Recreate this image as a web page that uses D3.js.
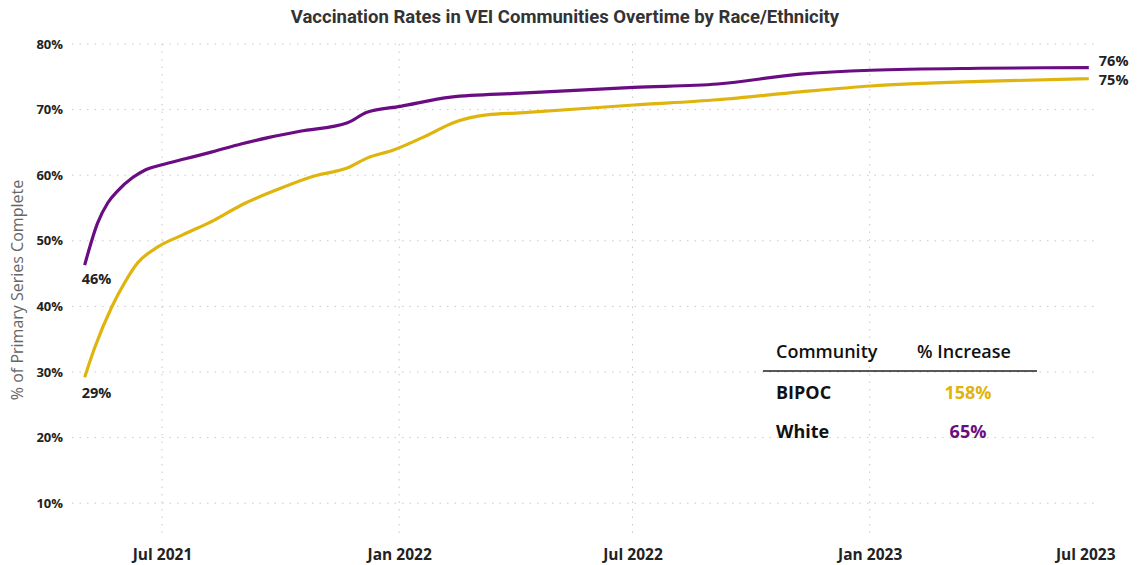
<!DOCTYPE html>
<html>
<head>
<meta charset="utf-8">
<script src="https://cdn.jsdelivr.net/npm/d3@7"></script>
<style>
  body { margin: 0; background: #fff; }
  text { font-family: "Open Sans", "Noto Sans", sans-serif; }
</style>
</head>
<body>
<div id="chart"></div>
<script>
// data
const whiteDates = ["2021-05-02","2021-05-12","2021-05-20","2021-05-28","2021-06-08","2021-06-18","2021-07-01",
  "2021-07-19","2021-08-06","2021-09-01","2021-09-23","2021-10-16","2021-11-22","2021-12-07","2022-01-02",
  "2022-02-10","2022-04-05","2022-07-02","2022-09-05","2022-11-08","2023-01-02","2023-03-28","2023-06-20"];
const whiteValues = [46.3,52.7,55.8,57.7,59.6,60.8,61.6,62.5,63.4,64.8,65.8,66.7,68.0,69.6,70.5,
  71.9,72.5,73.4,73.9,75.4,76.0,76.3,76.4];

const bipocDates = ["2021-05-02","2021-05-10","2021-05-23","2021-06-02","2021-06-12","2021-06-28","2021-07-17",
  "2021-08-11","2021-09-01","2021-09-27","2021-10-24","2021-11-24","2021-12-07","2021-12-27","2022-01-23",
  "2022-02-12","2022-03-10","2022-04-05","2022-07-02","2022-09-05","2022-11-08","2023-01-02","2023-03-28","2023-06-20"];
const bipocValues = [29.2,33.8,39.9,43.6,46.6,49.1,50.9,53.2,55.5,57.7,59.7,61.3,62.6,63.8,66.1,
  68.0,69.2,69.5,70.7,71.5,72.7,73.6,74.3,74.7];

const yTicks = [10,20,30,40,50,60,70,80];
const xTicks = ["2021-07-01","2022-01-01","2022-07-01","2023-01-01","2023-07-01"];

const tableHead = ["Community", "% Increase"];
const tableRows = [["BIPOC", "158%"], ["White", "65%"]];

const purple = "#6a0d83", yellow = "#dfb40c";

const W = 1138, H = 565;
const svg = d3.select("#chart").append("svg").attr("width", W).attr("height", H);

const parse = d3.timeParse("%Y-%m-%d");
const white = whiteDates.map((d, i) => ({ date: parse(d), v: whiteValues[i] }));
const bipoc = bipocDates.map((d, i) => ({ date: parse(d), v: bipocValues[i] }));

const x = d3.scaleTime()
  .domain([parse("2021-07-01"), parse("2023-07-01")])
  .range([162, 1103]);
const y = d3.scaleLinear().domain([5, 80]).range([536, 44]);

// title
svg.append("text")
  .attr("x", 565).attr("y", 23)
  .attr("text-anchor", "middle")
  .style("font-family", "Roboto, sans-serif")
  .style("font-size", "18.5px").style("font-weight", "bold").style("fill", "#333")
  .text("Vaccination Rates in VEI Communities Overtime by Race/Ethnicity");

// grid
svg.append("g").selectAll("line.h")
  .data(yTicks).enter().append("line")
  .attr("x1", 72).attr("x2", 1095)
  .attr("y1", d => y(d)).attr("y2", d => y(d))
  .attr("stroke", "#c8c8c8").attr("stroke-dasharray", "1.5,6");

svg.append("g").selectAll("line.v")
  .data(xTicks.slice(0, 4)).enter().append("line")
  .attr("x1", d => x(parse(d))).attr("x2", d => x(parse(d)))
  .attr("y1", 44).attr("y2", 536)
  .attr("stroke", "#c8c8c8").attr("stroke-dasharray", "1.5,6");

// y axis
const yAxis = svg.append("g")
  .attr("transform", "translate(63,0)")
  .call(d3.axisLeft(y).tickValues(yTicks).tickSize(0).tickPadding(0).tickFormat(d => d + "%"));
yAxis.select(".domain").remove();
yAxis.selectAll("text")
  .style("font-size", "13px").style("font-weight", "bold").style("fill", "#222")
  .style("font-family", "'Open Sans', sans-serif");

svg.append("text")
  .attr("transform", "translate(23,290) rotate(-90)")
  .attr("text-anchor", "middle")
  .style("font-size", "16px").style("fill", "#666")
  .text("% of Primary Series Complete");

// x axis
const xAxis = svg.append("g")
  .attr("transform", "translate(0,549)")
  .call(d3.axisBottom(x).tickValues(xTicks.map(parse)).tickSize(0).tickPadding(0)
    .tickFormat(d3.timeFormat("%b %Y")));
xAxis.select(".domain").remove();
xAxis.selectAll("text")
  .style("font-size", "15.5px").style("font-weight", "bold").style("fill", "#222")
  .style("font-family", "'Open Sans', sans-serif");
xAxis.selectAll(".tick").filter((d, i) => i === xTicks.length - 1)
  .select("text").attr("text-anchor", "end").attr("x", 12);

// lines
const line = d3.line().x(d => x(d.date)).y(d => y(d.v)).curve(d3.curveMonotoneX);
svg.append("path").datum(bipoc).attr("d", line)
  .attr("fill", "none").attr("stroke", yellow).attr("stroke-width", 3.2);
svg.append("path").datum(white).attr("d", line)
  .attr("fill", "none").attr("stroke", purple).attr("stroke-width", 3.2);

// start / end labels
const lbl = (tx, ty, anchor, t) => svg.append("text")
  .attr("x", tx).attr("y", ty).attr("text-anchor", anchor)
  .style("font-size", "14.5px").style("font-weight", "bold").style("fill", "#222").text(t);
const w0 = white[0], b0 = bipoc[0], w1 = white[white.length - 1], b1 = bipoc[bipoc.length - 1];
lbl(x(w0.date) - 3, y(w0.v) + 19, "start", Math.round(w0.v) + "%");
lbl(x(b0.date) - 3, y(b0.v) + 21, "start", Math.round(b0.v) + "%");
lbl(x(w1.date) + 10, y(w1.v) - 2, "start", Math.round(w1.v) + "%");
lbl(x(b1.date) + 10, y(b1.v) + 6, "start", Math.round(b1.v) + "%");

// table
const tbl = svg.append("g").style("font-size", "18px");
tbl.append("text").attr("x", 776).attr("y", 358).style("font-weight", 600).style("fill", "#111").text(tableHead[0]);
tbl.append("text").attr("x", 964).attr("y", 358).attr("text-anchor", "middle")
  .style("font-weight", 600).style("fill", "#111").text(tableHead[1]);
tbl.append("line").attr("x1", 763).attr("x2", 1037).attr("y1", 371).attr("y2", 371)
  .attr("stroke", "#222").attr("stroke-width", 1.5);
const rowColors = [yellow, purple];
tableRows.forEach((r, i) => {
  const ry = 399 + i * 39;
  tbl.append("text").attr("x", 776).attr("y", ry).style("font-weight", "bold").style("fill", "#111").text(r[0]);
  tbl.append("text").attr("x", 968).attr("y", ry).attr("text-anchor", "middle")
    .style("font-weight", "bold").style("fill", rowColors[i]).text(r[1]);
});
</script>
</body>
</html>
